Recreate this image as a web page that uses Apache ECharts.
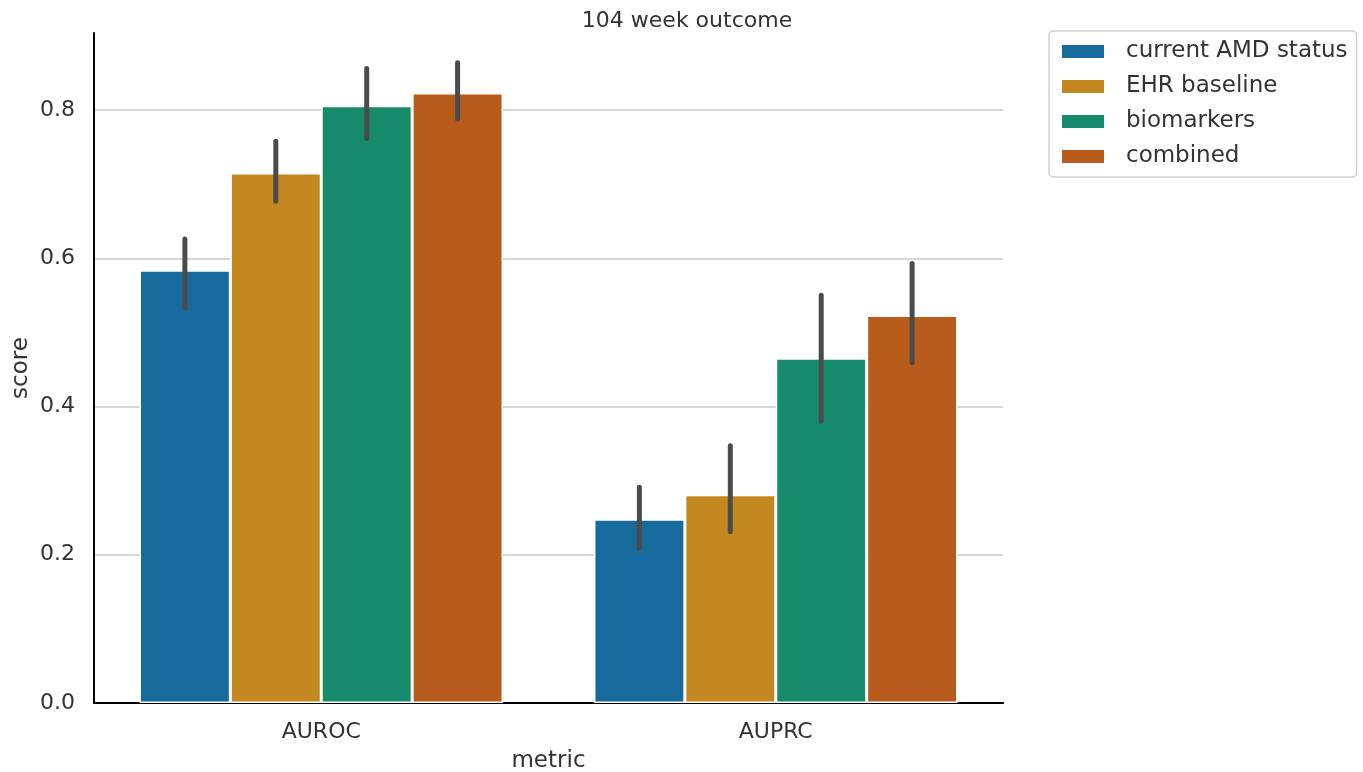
<!DOCTYPE html>
<html>
<head>
<meta charset="utf-8">
<script src="https://cdn.jsdelivr.net/npm/echarts@6/dist/echarts.min.js"></script>
<style>
  html, body { margin: 0; padding: 0; background: #fff; }
  #chart { width: 1363px; height: 772px; }
</style>
</head>
<body>
<div id="chart"></div>
<script>
// categories
var metrics = ['AUROC', 'AUPRC'];
var models = ['current AMD status', 'EHR baseline', 'biomarkers', 'combined'];
var yTicks = [0, 0.2, 0.4, 0.6, 0.8];

// mean scores per model, one value per metric
var currentAmd = [0.584, 0.248];
var ehrBaseline = [0.715, 0.281];
var biomarkers = [0.806, 0.465];
var combined = [0.823, 0.523];

// confidence interval [low, high] per metric
var currentAmdCi = [[0.533, 0.626], [0.208, 0.291]];
var ehrBaselineCi = [[0.677, 0.758], [0.231, 0.347]];
var biomarkersCi = [[0.762, 0.856], [0.380, 0.550]];
var combinedCi = [[0.788, 0.864], [0.459, 0.593]];

var colors = ['#176b9c', '#c3881f', '#168a6a', '#b85c1b'];
var values = [currentAmd, ehrBaseline, biomarkers, combined];
var cis = [currentAmdCi, ehrBaselineCi, biomarkersCi, combinedCi];

var font = 'DejaVu Sans';
var chart = echarts.init(document.getElementById('chart'));

var series = [];
models.forEach(function (name, k) {
  series.push({
    name: name,
    type: 'bar',
    data: values[k],
    barGap: '0%',
    barCategoryGap: '20%',
    itemStyle: { color: colors[k], borderColor: '#fff', borderWidth: 1.5 },
    emphasis: { disabled: true }
  });
});
cis.forEach(function (ci, k) {
  series.push({
    type: 'custom',
    z: 5,
    silent: true,
    data: ci.map(function (c, i) { return [i, c[0], c[1]]; }),
    renderItem: function (params, api) {
      var cat = api.value(0);
      var lo = api.coord([cat, api.value(1)]);
      var hi = api.coord([cat, api.value(2)]);
      var catW = api.size([1, 0])[0];
      var barW = catW * 0.8 / models.length;
      var x = lo[0] - catW * 0.4 + (k + 0.5) * barW;
      return {
        type: 'line',
        shape: { x1: x, y1: lo[1], x2: x, y2: hi[1] },
        style: { stroke: '#4b4b4b', lineWidth: 5, lineCap: 'round' }
      };
    }
  });
});

var option = {
  animation: false,
  color: colors,
  title: {
    text: '104 week outcome',
    left: 682,
    top: 5,
    textAlign: 'center',
    textStyle: { fontFamily: font, fontSize: 22, fontWeight: 'normal', color: '#333' }
  },
  legend: {
    data: models,
    orient: 'vertical',
    left: 1049,
    top: 31,
    padding: [9, 9, 9, 11],
    itemGap: 12,
    itemWidth: 44,
    itemHeight: 15,
    borderColor: '#d0d0d0',
    borderWidth: 1.5,
    borderRadius: 4,
    icon: 'rect',
    textStyle: { fontFamily: font, fontSize: 23, color: '#333', padding: [0, 0, 0, 16] }
  },
  grid: { left: 94, right: 360, top: 33, bottom: 69, outerBoundsMode: 'none' },
  xAxis: {
    type: 'category',
    data: metrics,
    name: 'metric',
    nameLocation: 'middle',
    nameGap: 47,
    nameTextStyle: { fontFamily: font, fontSize: 23, color: '#333' },
    axisLine: { lineStyle: { color: '#000', width: 2 } },
    axisTick: { show: false },
    axisLabel: { fontFamily: font, fontSize: 22, color: '#333', margin: 18 }
  },
  yAxis: {
    type: 'value',
    min: 0,
    max: 0.904,
    interval: 0.2,
    name: 'score',
    nameLocation: 'middle',
    nameGap: 61,
    nameMoveOverlap: false,
    nameTextStyle: { fontFamily: font, fontSize: 23, color: '#333' },
    axisLine: { show: true, lineStyle: { color: '#000', width: 2 } },
    axisTick: { show: false },
    axisLabel: {
      fontFamily: font, fontSize: 22, color: '#333', margin: 19,
      showMaxLabel: false,
      formatter: function (v) { return yTicks.indexOf(+v.toFixed(1)) >= 0 ? v.toFixed(1) : ''; }
    },
    splitLine: {
      lineStyle: { color: ['#d6d6d6', '#d6d6d6', '#d6d6d6', '#d6d6d6', '#d6d6d6', 'rgba(0,0,0,0)'], width: 2 }
    }
  },
  series: series
};
chart.setOption(option);
</script>
</body>
</html>
